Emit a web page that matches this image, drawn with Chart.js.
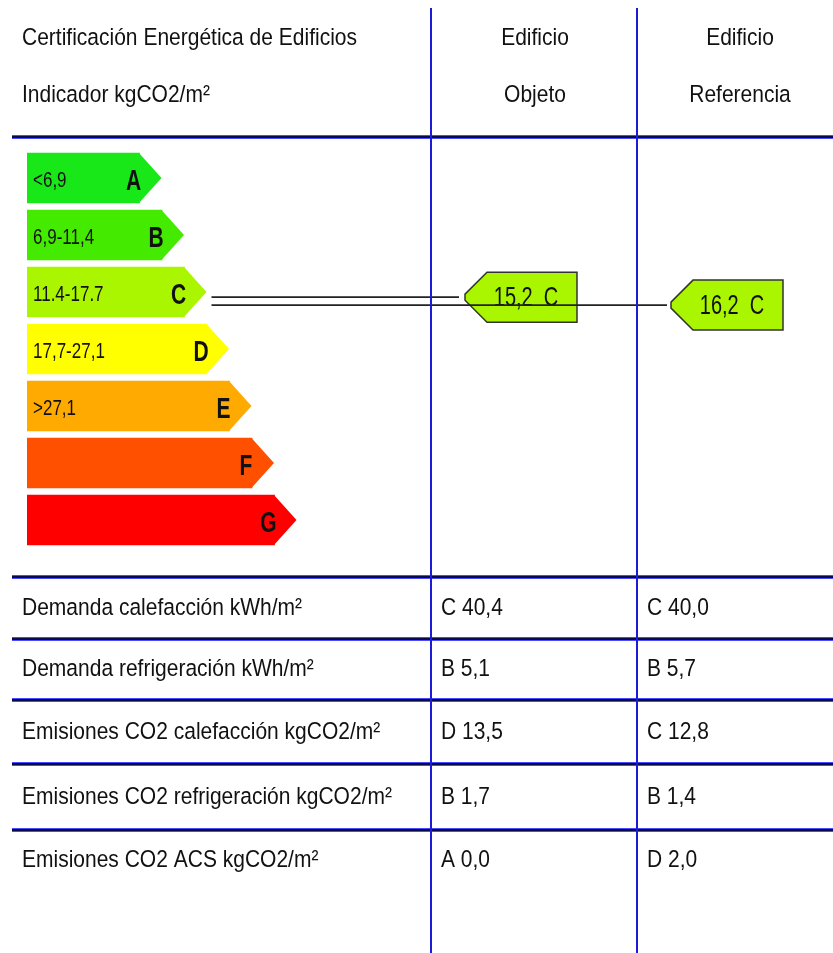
<!DOCTYPE html>
<html>
<head>
<meta charset="utf-8">
<script src="https://cdn.jsdelivr.net/npm/chart.js@4/dist/chart.umd.min.js"></script>
<style>
  body { margin: 0; background: #fff; }
  #grafico { display: block; }
</style>
</head>
<body>
<canvas id="grafico" width="833" height="953"></canvas>
<script>
// clases de la escala y su longitud relativa de barra
const clases = ["A", "B", "C", "D", "E", "F", "G"];
const rangos = ["<6,9", "6,9-11,4", "11.4-17.7", "17,7-27,1", ">27,1", "", ""];
const longitudes = [5, 6, 7, 8, 9, 10, 11];
const colores = ["#18e818", "#44ea00", "#aaf500", "#ffff00", "#ffaa00", "#ff5000", "#ff0000"];
// limites inferiores / superiores de cada clase (kgCO2/m2)
const limiteInf = [0, 6.9, 11.4, 17.7, 27.1, 27.1, 27.1];
const limiteSup = [6.9, 11.4, 17.7, 27.1, 40, 40, 40];

// indicador global
const indicadorObjeto = 15.2;
const claseObjeto = "C";
const indicadorReferencia = 16.2;
const claseReferencia = "C";

// tabla inferior
const filas = [
    "Demanda calefacción kWh/m²",
    "Demanda refrigeración kWh/m²",
    "Emisiones CO2 calefacción kgCO2/m²",
    "Emisiones CO2 refrigeración kgCO2/m²",
    "Emisiones CO2 ACS kgCO2/m²"
];
const objetoClase = ["C", "B", "D", "B", "A"];
const objetoValor = [40.4, 5.1, 13.5, 1.7, 0.0];
const referenciaClase = ["C", "B", "C", "B", "D"];
const referenciaValor = [40.0, 5.7, 12.8, 1.4, 2.0];

const fuente = '"Liberation Sans", Arial, sans-serif';
const colObjeto = 431;
const colReferencia = 637;
const lineasFilas = [577, 639, 700, 764, 830];

function coma(v) {
    return v.toFixed(1).replace(".", ",");
}

function texto(ctx, t, x, y, size, sy, align, peso) {
    ctx.save();
    ctx.translate(x, y);
    ctx.scale(1, sy);
    ctx.font = (peso || "normal") + " " + size + "px " + fuente;
    ctx.textAlign = align || "left";
    ctx.textBaseline = "middle";
    ctx.fillStyle = "#111";
    ctx.fillText(t, 0, 0);
    ctx.restore();
}

function lineaAzul(ctx, x1, x2, y) {
    ctx.save();
    ctx.strokeStyle = "#4a4aff";
    ctx.lineWidth = 4;
    ctx.beginPath(); ctx.moveTo(x1, y); ctx.lineTo(x2, y); ctx.stroke();
    ctx.strokeStyle = "#0a0a45";
    ctx.lineWidth = 2;
    ctx.beginPath(); ctx.moveTo(x1, y); ctx.lineTo(x2, y); ctx.stroke();
    ctx.restore();
}

// flecha del indicador, apuntando a la izquierda
function etiqueta(ctx, colX, y, h, txt, color) {
    const punta = colX + 34, cuerpo = colX + 56, fin = colX + 146;
    ctx.save();
    ctx.beginPath();
    ctx.moveTo(cuerpo, y - h / 2);
    ctx.lineTo(fin, y - h / 2);
    ctx.lineTo(fin, y + h / 2);
    ctx.lineTo(cuerpo, y + h / 2);
    ctx.lineTo(punta, y + 3);
    ctx.lineTo(punta, y - 3);
    ctx.closePath();
    ctx.fillStyle = color;
    ctx.fill();
    ctx.strokeStyle = "#333";
    ctx.lineWidth = 1.5;
    ctx.stroke();
    ctx.restore();
    texto(ctx, txt, (cuerpo + fin) / 2 - 6, y + 1, 20, 1.35, "center");
}

function linea(ctx, x1, x2, y) {
    ctx.save();
    ctx.strokeStyle = "#222";
    ctx.lineWidth = 1.6;
    ctx.beginPath();
    ctx.moveTo(x1, y); ctx.lineTo(x2, y);
    ctx.stroke();
    ctx.restore();
}

const dibujoEtiqueta = {
    id: "dibujoEtiqueta",
    afterDatasetsDraw(chart) {
        const ctx = chart.ctx;
        const barras = chart.getDatasetMeta(0).data;

        // puntas de flecha y textos de cada clase
        barras.forEach((b, i) => {
            const h = b.height;
            ctx.save();
            ctx.beginPath();
            ctx.moveTo(b.x - 0.5, b.y - h / 2);
            ctx.lineTo(b.x + h * 0.44, b.y);
            ctx.lineTo(b.x - 0.5, b.y + h / 2);
            ctx.closePath();
            ctx.fillStyle = colores[i];
            ctx.fill();
            ctx.restore();
            if (rangos[i]) texto(ctx, rangos[i], b.base + 6, b.y + 3, 17, 1.3, "left");
            texto(ctx, clases[i], b.x - 6, b.y + 4, 21, 1.4, "center", "bold");
        });

        // posicion vertical dentro de la barra de su clase
        function posY(valor, clase) {
            const i = clases.indexOf(clase);
            const b = barras[i];
            const f = (valor - limiteInf[i]) / (limiteSup[i] - limiteInf[i]);
            return { y: b.y - b.height / 2 + f * b.height, b: b };
        }
        const pO = posY(indicadorObjeto, claseObjeto);
        const pR = posY(indicadorReferencia, claseReferencia);
        const inicio = pO.b.x + pO.b.height * 0.44 + 5;

        linea(ctx, inicio, colObjeto + 28, pO.y);
        etiqueta(ctx, colObjeto, pO.y, pO.b.height, coma(indicadorObjeto) + "  " + claseObjeto, colores[clases.indexOf(claseObjeto)]);
        // la linea de referencia cruza la etiqueta del edificio objeto
        linea(ctx, inicio, colReferencia + 30, pR.y);
        etiqueta(ctx, colReferencia, pR.y, pR.b.height, coma(indicadorReferencia) + "  " + claseReferencia, colores[clases.indexOf(claseReferencia)]);
    },
    afterDraw(chart) {
        const ctx = chart.ctx;
        const W = chart.width, H = chart.height;

        // cabecera
        texto(ctx, "Certificación Energética de Edificios", 22, 38, 21, 1.15);
        texto(ctx, "Indicador kgCO2/m²", 22, 95, 21, 1.15);
        texto(ctx, "Edificio", 535, 38, 21, 1.15, "center");
        texto(ctx, "Objeto", 535, 95, 21, 1.15, "center");
        texto(ctx, "Edificio", 740, 38, 21, 1.15, "center");
        texto(ctx, "Referencia", 740, 95, 21, 1.15, "center");

        // lineas horizontales
        lineaAzul(ctx, 12, W, 137);
        lineasFilas.forEach(y => lineaAzul(ctx, 12, W, y));

        // filas de la tabla
        filas.forEach((f, i) => {
            const y = i < lineasFilas.length - 1 ? (lineasFilas[i] + lineasFilas[i + 1]) / 2 : lineasFilas[i] + 30;
            texto(ctx, f, 22, y, 21, 1.15);
            texto(ctx, objetoClase[i] + " " + coma(objetoValor[i]), colObjeto + 10, y, 21, 1.15);
            texto(ctx, referenciaClase[i] + " " + coma(referenciaValor[i]), colReferencia + 10, y, 21, 1.15);
        });

        // columnas
        ctx.save();
        ctx.strokeStyle = "#1c1cd6";
        ctx.lineWidth = 2;
        ctx.beginPath();
        ctx.moveTo(colObjeto, 8); ctx.lineTo(colObjeto, H);
        ctx.moveTo(colReferencia, 8); ctx.lineTo(colReferencia, H);
        ctx.stroke();
        ctx.restore();
    }
};

const data = {
    labels: clases,
    datasets: [{
        data: longitudes,
        backgroundColor: colores,
        borderWidth: 0,
        barThickness: 50
    }]
};

const config = {
    type: "bar",
    data: data,
    options: {
        indexAxis: "y",
        responsive: false,
        animation: false,
        layout: { padding: { left: 27, right: 401, top: 149.5, bottom: 404.5 } },
        scales: {
            x: { min: 0, max: 18, display: false },
            y: { display: false }
        },
        plugins: {
            legend: { display: false },
            tooltip: { enabled: false }
        }
    },
    plugins: [dibujoEtiqueta]
};

const grafico = new Chart(document.querySelector("#grafico"), config);
</script>
</body>
</html>
